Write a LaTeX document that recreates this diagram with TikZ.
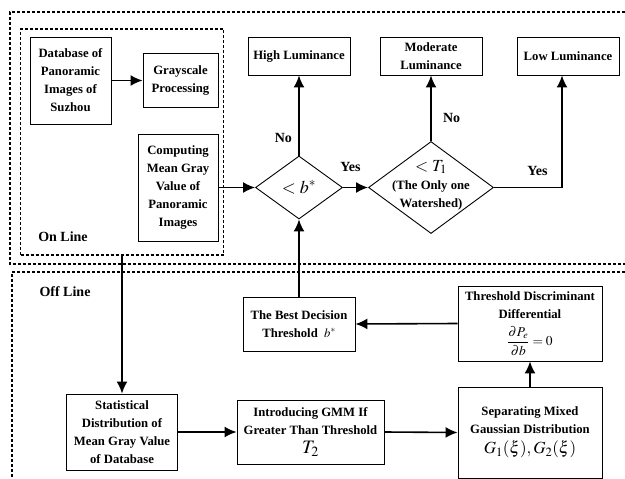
\documentclass[tikz,border=0pt]{standalone}
\usepackage{amsmath}
\usepackage{mathptmx}
\usepackage[no-math]{fontspec}
\setmainfont{Liberation Serif}
\usepackage{tikz}
\usetikzlibrary{shapes.geometric,arrows.meta}
\usepackage{xcolor}

\begin{document}
\begin{tikzpicture}[x=1pt,y=-1pt,
        % define styles
        box/.style={
             draw,
             line width=0.9pt,
             align=center,
             inner sep=1pt,
             font=\bfseries\fontsize{12.7}{18}\selectfont
        },
        dia/.style={
             draw,
             diamond,
             line width=0.9pt,
             inner sep=0pt
        },
        lab/.style={
             font=\bfseries\fontsize{14}{16}\selectfont
        },
        dashframe/.style={
             line width=1.8pt,
             dash pattern=on 3pt off 2pt
        },
        flow/.style={
             line width=1.6pt,
             -{Latex[length=12pt,width=11pt]}
        }
    ]
        \useasboundingbox (0,0) rectangle (625,479);

        % On line and off line frames
        \draw[dashframe] (625,12) -- (10,12) -- (10,264) -- (625,264);
        \draw[dashframe] (625,272) -- (12,272) -- (12,479);
        \node[draw,dashframe,minimum width=203pt,minimum height=226pt] at (122,142) (online) {};
        \node[lab] at (63,237) (onlab) {On Line};
        \node[lab] at (65,292) (offlab) {Off Line};

        % On line part
        \node[box,minimum width=81pt,minimum height=87pt] at (70.5,80.5) (db) {Database of\\Panoramic\\Images of\\Suzhou};
        \node[box,minimum width=75pt,minimum height=54pt] at (180.5,80.5) (gray) {Grayscale\\Processing};
        \node[box,minimum width=80pt,minimum height=107pt] at (178,187.5) (comp) {Computing\\Mean Gray\\Value of\\Panoramic\\Images};

        % Decisions and outputs
        \node[dia,minimum width=87pt,minimum height=63pt] at (299,187.5) (bdia) {\fontsize{18}{18}\selectfont$<b^*$};
        \node[dia,minimum width=125pt,minimum height=92pt] at (431,187.5) (T1) {};
        \node[box,draw=none,inner sep=0pt] at (431,185) (T1txt) {\fontsize{17}{18}\selectfont$<T_1$\\(The Only one\\Watershed)};
        \node[box,minimum width=102pt,minimum height=38pt] at (299,56) (high) {High Luminance};
        \node[box,minimum width=102pt,minimum height=38pt] at (431,56) (mod) {Moderate\\Luminance};
        \node[box,minimum width=102pt,minimum height=38pt] at (568,56) (low) {Low Luminance};

        % Off line part
        \node[box,minimum width=112pt,minimum height=54pt] at (299,324) (best) {The Best Decision\\Threshold\ \ $b^*$};
        \node[box,minimum width=144pt,minimum height=75pt] at (530,323.5) (thr) {Threshold Discriminant\\Differential\\[7pt]{\fontsize{13.5}{16}\selectfont$\displaystyle\frac{\partial P_e}{\partial b}=0$}};
        \node[box,minimum width=111pt,minimum height=76pt] at (122,432) (stat) {Statistical\\Distribution of\\Mean Gray Value\\of Database};
        \node[box,minimum width=147pt,minimum height=64pt] at (310.5,432) (intro) {Introducing GMM If\\Greater Than Threshold\\[1pt]{\fontsize{19}{19}\selectfont$T_2$}};
        \node[box,minimum width=144pt,minimum height=91pt] at (530,432.5) (sep) {Separating Mixed\\Gaussian Distribution\\[2pt]{\fontsize{17}{18}\selectfont$G_1(\xi),G_2(\xi)$}};

        \path[flow] (db.east) edge (gray.west)
        (comp.east) edge (bdia.west)
        (bdia.north) edge node[lab,left=3pt,pos=0.22] {No} (high.south)
        (bdia.east) edge node[lab,above=12pt,pos=0.3] {Yes} (T1.west)
        (T1.north) edge node[lab,right=8pt,pos=0.35] {No} (mod.south)
        (online.south) edge (stat.north)
        (stat.east) edge (intro.west)
        (intro.east) edge (sep.west)
        (sep.north) edge (thr.south)
        (thr.west) edge (best.east)
        (best.north) edge (bdia.south)
        ;
        \draw[flow] (T1.east) -| node[lab,pos=0.32,above=8pt] {Yes} ([xshift=-6pt]low.south);
    \end{tikzpicture}
\end{document}
